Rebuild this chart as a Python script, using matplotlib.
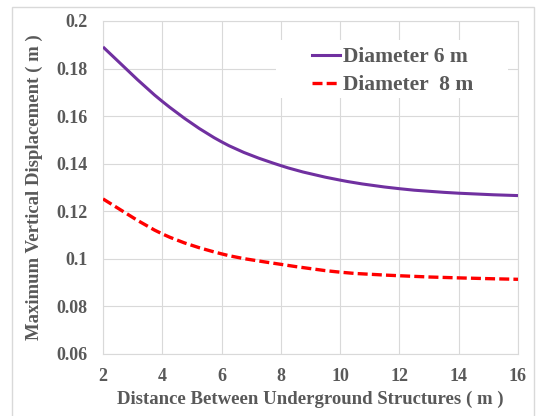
import matplotlib
matplotlib.use("Agg")
import matplotlib.pyplot as plt
from matplotlib.patches import Rectangle, PathPatch
from matplotlib.path import Path
from matplotlib.lines import Line2D

# Distance between underground structures (m)
distance = [2, 4, 6, 8, 10, 12, 14, 16]
# Maximum vertical displacement (m)
disp_d6 = [0.1891, 0.1662, 0.1492, 0.1392, 0.1331, 0.1295, 0.1276, 0.1266]
disp_d8 = [0.1252, 0.1105, 0.1021, 0.0977, 0.0944, 0.0929, 0.0920, 0.0914]

x_ticks = [2, 4, 6, 8, 10, 12, 14, 16]
y_ticks = [0.06, 0.08, 0.1, 0.12, 0.14, 0.16, 0.18, 0.2]
y_tick_labels = ["0.06", "0.08", "0.1", "0.12", "0.14", "0.16", "0.18", "0.2"]


def smooth_path(xs, ys):
    """Smoothed line through every point (Catmull-Rom segments as cubic Beziers)."""
    pts = list(zip(xs, ys))
    n = len(pts)
    verts = [pts[0]]
    codes = [Path.MOVETO]
    for i in range(n - 1):
        p0 = pts[max(i - 1, 0)]
        p1 = pts[i]
        p2 = pts[i + 1]
        p3 = pts[min(i + 2, n - 1)]
        c1 = (p1[0] + (p2[0] - p0[0]) / 6, p1[1] + (p2[1] - p0[1]) / 6)
        c2 = (p2[0] - (p3[0] - p1[0]) / 6, p2[1] - (p3[1] - p1[1]) / 6)
        verts += [c1, c2, p2]
        codes += [Path.CURVE4] * 3
    return Path(verts, codes)


W, H = 539, 416
fig = plt.figure(figsize=(W / 100, H / 100), dpi=100)
fig.patch.set_facecolor("white")

# outer chart border
fig.add_artist(Rectangle((12 / W, -0.05), (534 - 12) / W, 1.05 - 7 / H,
                         transform=fig.transFigure, fill=False,
                         edgecolor="#d9d9d9", linewidth=1.0))

left, right, top, bottom = 103, 518, 21, 354
ax = fig.add_axes([left / W, 1 - bottom / H, (right - left) / W, (bottom - top) / H])

text_color = "#595959"
font = dict(family="Liberation Serif", weight="bold", color=text_color)

purple, red = "#7030A0", "#FF0000"
dash = (0, (3, 1.25))

ax.add_patch(PathPatch(smooth_path(distance, disp_d6), fill=False,
                       edgecolor=purple, lw=2.2, capstyle="butt", zorder=3))
ax.add_patch(PathPatch(smooth_path(distance, disp_d8), fill=False,
                       edgecolor=red, lw=2.4, ls=dash, zorder=3))

ax.set_xlim(2, 16)
ax.set_ylim(0.06, 0.2)
ax.set_xticks(x_ticks)
ax.set_yticks(y_ticks)
ax.set_yticklabels(y_tick_labels)
ax.grid(True, color="#d9d9d9", lw=0.8, zorder=0)
ax.set_axisbelow(True)
for s in ax.spines.values():
    s.set_color("#d9d9d9")
    s.set_linewidth(0.8)
ax.tick_params(length=0, labelsize=13, labelcolor=text_color)
ax.tick_params(axis="y", pad=11)
ax.tick_params(axis="x", pad=10)
for lab in ax.get_xticklabels() + ax.get_yticklabels():
    lab.set_family("Liberation Serif")
    lab.set_weight("bold")

ax.set_xlabel("Distance Between Underground Structures ( m )", fontsize=13.5,
              labelpad=4, **font)
ax.set_ylabel("Maximum Vertical Displacement ( m )", fontsize=13.5,
              labelpad=10, **font)

# white legend area hiding the grid behind it
ax.add_patch(Rectangle((276 / W, 1 - 98 / H), (508 - 276) / W, (98 - 40) / H,
                       transform=fig.transFigure, facecolor="white",
                       edgecolor="none", zorder=1))

handles = [Line2D([], [], color=purple, lw=2.2),
           Line2D([], [], color=red, lw=2.4, ls=dash)]
labels = ["Diameter 6 m", "Diameter  8 m"]
leg = ax.legend(handles, labels, loc="upper left",
                bbox_to_anchor=(312 / W, 1 - 47 / H),
                bbox_transform=fig.transFigure, frameon=False,
                handlelength=1.3, handletextpad=0.12, labelspacing=0.38,
                borderpad=0, borderaxespad=0,
                prop=dict(family="Liberation Serif", weight="bold", size=15.5))
for t in leg.get_texts():
    t.set_color(text_color)

fig.savefig("out.png", dpi=100)
